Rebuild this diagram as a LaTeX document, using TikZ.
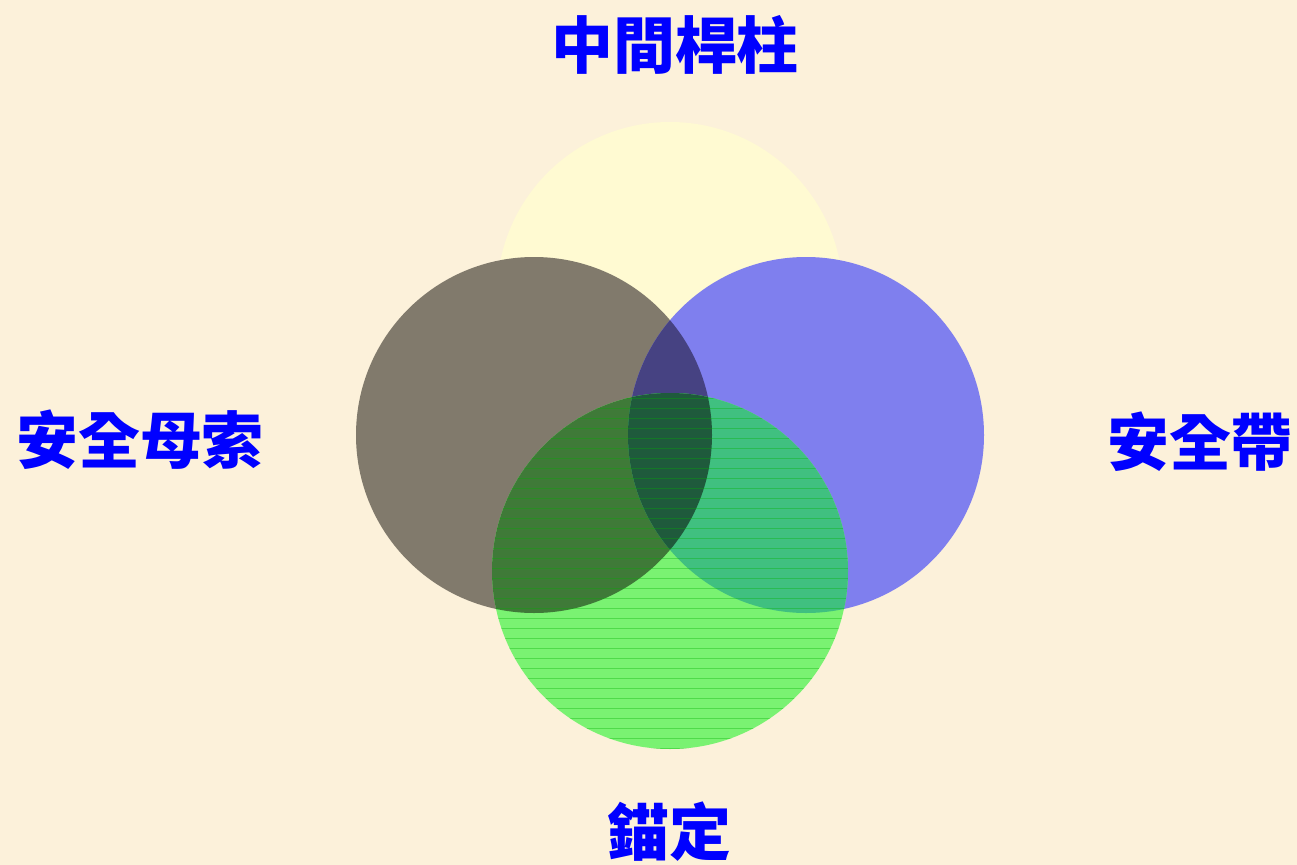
\documentclass[tikz,border=0pt]{standalone}
\usepackage{fontspec}
\newfontfamily\cjk{Noto Sans CJK TC}
\definecolor{bg}{HTML}{FCF1DA}
\definecolor{cyel}{HTML}{FFFAD2}
\definecolor{cgray}{HTML}{817A6C}
\definecolor{cblue}{HTML}{7F7FEE}
\definecolor{cgb}{HTML}{464282}
\definecolor{cgreen}{HTML}{7AF272}
\definecolor{cggray}{HTML}{3F7A38}
\definecolor{cgblue}{HTML}{40C080}
\definecolor{call}{HTML}{1F5A3C}
\definecolor{lbl}{HTML}{0000FF}
\tikzset{
  lab/.style={text=lbl, font=\cjk\bfseries\fontsize{88}{88}\selectfont, inner sep=0pt},
}
\begin{document}
\begin{tikzpicture}[x=0.05cm,y=-0.05cm]
\fill[bg] (0,0) rectangle (1297,865);
\useasboundingbox (0,0) rectangle (1297,865);
% circles
\coordinate (cy) at (670,295);
\coordinate (ck) at (534,435);
\coordinate (cb) at (806,435);
\coordinate (cg) at (670,571);
\fill[cyel] (cy) circle (173);
\fill[cgray] (ck) circle (178);
\fill[cblue] (cb) circle (178);
\begin{scope}
  \clip (ck) circle (178);
  \fill[cgb] (cb) circle (178);
\end{scope}
\fill[cgreen] (cg) circle (178);
\begin{scope}
  \clip (cg) circle (178);
  \fill[cggray] (ck) circle (178);
  \fill[cgblue] (cb) circle (178);
  \begin{scope}
    \clip (ck) circle (178);
    \fill[call] (cb) circle (178);
  \end{scope}
  \foreach \yy in {398,408,...,750}
    \draw[green!70!black, opacity=0.35, line width=0.4pt] (480,\yy) -- (860,\yy);
\end{scope}
% labels
\node[lab] (top) at (675,45) {中間桿柱};
\node[lab] (left) at (140,440) {安全母索};
\node[lab] (right) at (1200,442) {安全帶};
\node[lab] (bot) at (669,832) {錨定};
\end{tikzpicture}
\end{document}
